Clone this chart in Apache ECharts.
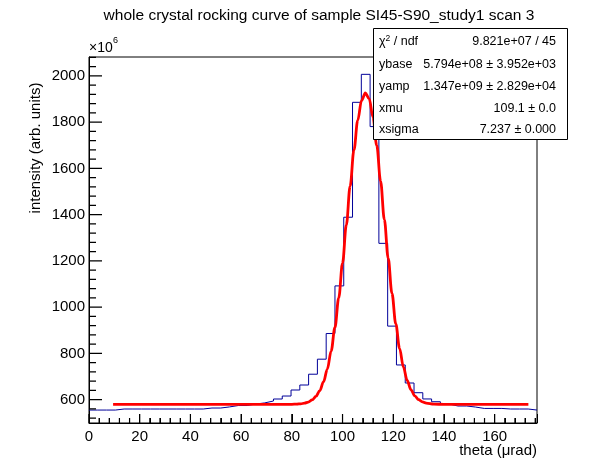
<!DOCTYPE html>
<html>
<head>
<meta charset="utf-8">
<script src="https://cdn.jsdelivr.net/npm/echarts@6/dist/echarts.min.js"></script>
<style>
  html, body { margin: 0; padding: 0; background: #fff; }
  #chart { width: 596px; height: 472px; }
</style>
</head>
<body>
<div id="chart"></div>
<script>
(function () {
  'use strict';

  // histogram range (theta, urad) and bin contents (x1e6)
  const X_MIN = 0;
  const X_MAX = 176.7;
  const N_BINS = 51;
  const binValues = [
    555, 555, 555, 559.5, 559.5, 559.5, 559.5, 559.5, 559.5, 559.5,
    559.5, 559.5, 559.5, 563.8, 563.8, 568.6, 574.6, 574.6, 581, 585.9,
    594.1, 602.8, 615.7, 641.7, 663.3, 710, 775, 886, 1092, 1389,
    1886, 2007, 1781, 1276, 918, 750, 672, 630, 603, 591,
    581, 572.5, 572.5, 568, 562, 562, 562, 559.5, 559.5, 559.5,
    555
  ];

  // fit curve
  const fitX = [9.5, 80, 82, 83.5, 85, 86.5, 88, 89.5, 91, 92.5, 94, 95.5, 97, 98.5, 100, 101.5, 103, 104.5,
    106, 107.5, 109, 110.5, 112, 113.5, 115, 116.5, 118, 119.5, 121, 122.5, 124, 125.5, 127, 128.5,
    130, 131.5, 133, 136, 140, 173.3];
  const fitY = [579.4, 579.8, 580.6, 582, 584.7, 589.7, 598.6, 613.8, 638.4, 676.4, 732.2, 809.9, 912.4, 1040.2, 1190.4, 1355.5, 1523.7, 1680,
    1808.3, 1894, 1926.3, 1901.5, 1822.4, 1699.2, 1545.5, 1378.1, 1211.7, 1059.1, 928, 822, 741.2, 682.8, 642.6, 616.5,
    600.2, 590.6, 585.2, 580.8, 579.5, 579.4];

  // axis ticks
  const xMajor = [0, 20, 40, 60, 80, 100, 120, 140, 160];
  const xMinor = [4, 8, 12, 16, 24, 28, 32, 36, 44, 48, 52, 56, 64, 68, 72, 76, 84, 88, 92, 96,
    104, 108, 112, 116, 124, 128, 132, 136, 144, 148, 152, 156, 164, 168, 172, 176];
  const Y_MIN = 499;
  const Y_MAX = 2082;
  const yMajor = [600, 800, 1000, 1200, 1400, 1600, 1800, 2000];
  const yMinor = [520, 560, 640, 680, 720, 760, 840, 880, 920, 960, 1040, 1080, 1120, 1160,
    1240, 1280, 1320, 1360, 1440, 1480, 1520, 1560, 1640, 1680, 1720, 1760, 1840, 1880,
    1920, 1960, 2040, 2080];

  // fit statistics box rows
  const statNames = ['{n|\u03c7}{s|2}{n| / ndf}', '{n|ybase}', '{n|yamp}', '{n|xmu}', '{n|xsigma}'];
  const statValues = ['9.821e+07 / 45', '5.794e+08 \u00b1 3.952e+03', '1.347e+09 \u00b1 2.829e+04',
    '109.1 \u00b1 0.0', '7.237 \u00b1 0.000'];

  const FONT = '"Liberation Sans", Arial, Helvetica, sans-serif';
  const WIDTH = 596;
  const HEIGHT = 472;
  const GRID = { left: 89, right: 59, top: 57, bottom: 49 };

  const binWidth = (X_MAX - X_MIN) / N_BINS;
  const histData = binValues.map(function (v, i) { return [X_MIN + i * binWidth, v]; });
  histData.push([X_MAX, binValues[binValues.length - 1]]);
  const fitData = fitX.map(function (x, i) { return [x, fitY[i]]; });

  // data units per pixel, so tick lengths can be given in pixels
  const xPerPx = (X_MAX - X_MIN) / (WIDTH - GRID.left - GRID.right);
  const yPerPx = (Y_MAX - Y_MIN) / (HEIGHT - GRID.top - GRID.bottom);

  // inward ROOT-style ticks: one line series per tick list, segments split by nulls
  const tickSeries = function tickSeries(values, dir, lenPx) {
    const data = [];
    values.forEach(function (v) {
      if (dir === 'x') {
        data.push([v, Y_MIN], [v, Y_MIN + lenPx * yPerPx]);
      } else {
        data.push([X_MIN, v], [X_MIN + lenPx * xPerPx, v]);
      }
      data.push(null);
    });
    return {
      type: 'line', data: data, connectNulls: false, clip: false,
      silent: true, symbol: 'none', showSymbol: false,
      lineStyle: { color: '#000000', width: 1.2, opacity: 1 }, z: 10
    };
  };

  const chart = echarts.init(document.getElementById('chart'), null, { renderer: 'canvas' });

  const statRows = [];
  const rowY = [42, 64.5, 86.5, 108.5, 130];
  statNames.forEach(function (name, i) {
    statRows.push({
      type: 'text', x: 379, y: rowY[i], z: 101,
      style: {
        text: name, font: '12.5px ' + FONT, fill: '#000', align: 'left', verticalAlign: 'middle',
        rich: {
          n: { fontSize: 12.5, fontFamily: FONT, fill: '#000' },
          s: { fontSize: 8.5, fontFamily: FONT, fill: '#000', verticalAlign: 'top', padding: [0, 0, 6, 0] }
        }
      }
    });
    statRows.push({
      type: 'text', x: 556, y: rowY[i], z: 101,
      style: { text: statValues[i], font: '12.5px ' + FONT, fill: '#000', align: 'right', verticalAlign: 'middle' }
    });
  });

  const plainNumber = function plainNumber(v) { return String(v); };

  chart.setOption({
    animation: false,
    backgroundColor: '#fff',
    grid: {
      left: GRID.left, right: GRID.right, top: GRID.top, bottom: GRID.bottom,
      show: true, borderColor: '#000', borderWidth: 1, backgroundColor: 'rgba(0,0,0,0)'
    },
    xAxis: {
      type: 'value', min: X_MIN, max: X_MAX, interval: 20,
      axisLine: { show: true, onZero: false, lineStyle: { color: '#000', width: 1 } },
      splitLine: { show: false },
      axisTick: { show: true, inside: true, length: 9, lineStyle: { color: '#000', width: 1 } },
      minorTick: { show: true, splitNumber: 5, length: 5, lineStyle: { color: '#000', width: 1 } },
      axisLabel: { show: true, customValues: xMajor, formatter: plainNumber, color: '#000', fontSize: 15, fontFamily: FONT, margin: 6 }
    },
    yAxis: {
      type: 'value', min: Y_MIN, max: Y_MAX,
      axisLine: { show: true, onZero: false, lineStyle: { color: '#000', width: 1 } },
      splitLine: { show: false }, axisTick: { show: false },
      axisLabel: { show: true, customValues: yMajor, formatter: plainNumber, color: '#000', fontSize: 15, fontFamily: FONT, margin: 4 }
    },
    series: [
      {
        type: 'line', name: 'data', data: histData, step: 'end',
        showSymbol: false, symbol: 'none',
        lineStyle: { color: '#000099', width: 1 }, z: 2
      },
      {
        type: 'line', name: 'fit', data: fitData, smooth: 0.35, smoothMonotone: 'x',
        showSymbol: false, symbol: 'none',
        lineStyle: { color: '#ff0000', width: 2.8 }, z: 3
      },
      tickSeries(xMajor, 'x', 9),
      tickSeries(xMinor, 'x', 5),
      tickSeries(yMajor, 'y', 13),
      tickSeries(yMinor, 'y', 7)
    ],
    graphic: [
      {
        type: 'text', x: 319, y: 16,
        style: {
          text: 'whole crystal rocking curve of sample SI45-S90_study1 scan 3',
          font: '15.5px ' + FONT, fill: '#000', align: 'center', verticalAlign: 'middle'
        }
      },
      {
        type: 'text', x: 89, y: 48,
        style: { text: '\u00d710', font: '14px ' + FONT, fill: '#000', align: 'left', verticalAlign: 'middle' }
      },
      {
        type: 'text', x: 113, y: 41,
        style: { text: '6', font: '9px ' + FONT, fill: '#000', align: 'left', verticalAlign: 'middle' }
      },
      {
        type: 'text', x: 36, y: 148, rotation: Math.PI / 2,
        style: {
          text: 'intensity (arb. units)', font: '15px ' + FONT, fill: '#000',
          align: 'center', verticalAlign: 'middle'
        }
      },
      {
        type: 'text', x: 537, y: 451,
        style: { text: 'theta (\u03bcrad)', font: '15px ' + FONT, fill: '#000', align: 'right', verticalAlign: 'middle' }
      },
      {
        type: 'rect', z: 100,
        shape: { x: 373.5, y: 28.5, width: 194, height: 111 },
        style: { fill: '#fff', stroke: '#000', lineWidth: 1 }
      }
    ].concat(statRows)
  });
})();
</script>
</body>
</html>
